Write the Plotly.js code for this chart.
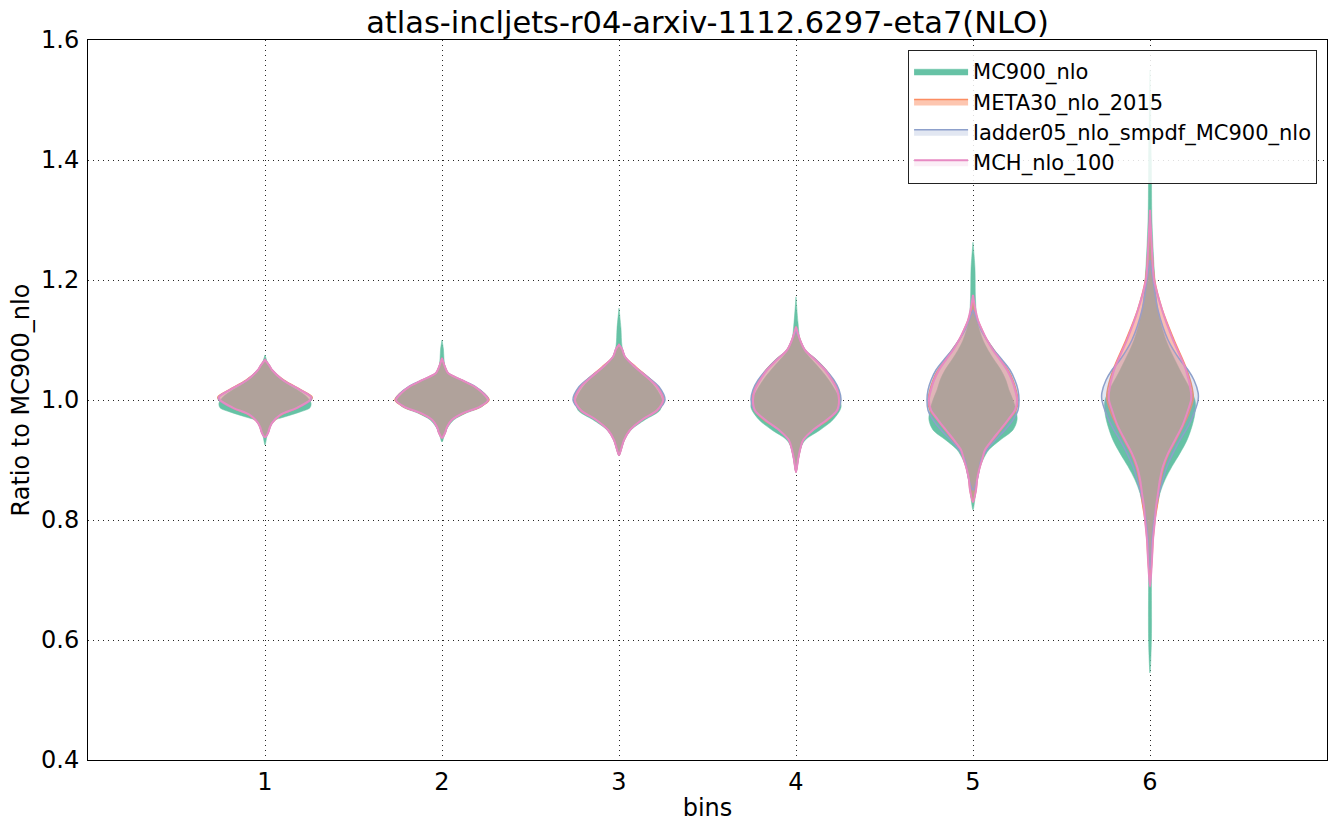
<!DOCTYPE html>
<html>
<head>
<meta charset="utf-8">
<script src="https://cdn.plot.ly/plotly-3.0.1.min.js"></script>
<style>
html,body{margin:0;padding:0;background:#fff;}
#chart{width:1337px;height:830px;}
</style>
</head>
<body>
<div id="chart"></div>
<script>
// ---- data ----
const bins = [1, 2, 3, 4, 5, 6];
const tickLabels = ['1', '2', '3', '4', '5', '6'];
const seriesNames = ['MC900_nlo', 'META30_nlo_2015', 'ladder05_nlo_smpdf_MC900_nlo', 'MCH_nlo_100'];
const titleText = 'atlas-incljets-r04-arxiv-1112.6297-eta7(NLO)';

// Violin profiles: ratio values (y) and half-widths (in bin units) per bin
const mc900Y = [
  [0.925, 0.94, 0.955, 0.965, 0.972, 0.98, 0.987, 0.995, 1.005, 1.017, 1.033, 1.05, 1.06, 1.075],
  [0.93, 0.945, 0.955, 0.967, 0.978, 0.989, 1.0, 1.011, 1.022, 1.033, 1.045, 1.055, 1.07, 1.085, 1.1],
  [0.908, 0.917, 0.933, 0.95, 0.967, 0.983, 1.0, 1.022, 1.038, 1.055, 1.072, 1.09, 1.12, 1.153],
  [0.88, 0.9, 0.917, 0.933, 0.95, 0.967, 0.987, 1.0, 1.017, 1.033, 1.05, 1.067, 1.083, 1.1, 1.13, 1.172],
  [0.817, 0.85, 0.883, 0.9, 0.917, 0.933, 0.95, 0.967, 0.983, 1.0, 1.017, 1.033, 1.05, 1.067, 1.083, 1.1, 1.133, 1.17, 1.22, 1.263],
  [0.545, 0.6, 0.7, 0.733, 0.767, 0.8, 0.822, 0.844, 0.867, 0.889, 0.911, 0.933, 0.956, 0.978, 1.0, 1.05, 1.1, 1.15, 1.2, 1.3, 1.4, 1.55]
];
const mc900W = [
  [0, 0.011, 0.023, 0.045, 0.113, 0.198, 0.254, 0.260, 0.237, 0.181, 0.096, 0.034, 0.017, 0],
  [0, 0.017, 0.034, 0.068, 0.136, 0.226, 0.254, 0.226, 0.181, 0.107, 0.034, 0.017, 0.011, 0.008, 0],
  [0, 0.011, 0.028, 0.068, 0.147, 0.232, 0.243, 0.203, 0.153, 0.085, 0.034, 0.017, 0.011, 0],
  [0, 0.011, 0.023, 0.051, 0.136, 0.209, 0.254, 0.249, 0.220, 0.186, 0.141, 0.090, 0.045, 0.023, 0.011, 0],
  [0, 0.017, 0.034, 0.056, 0.090, 0.153, 0.226, 0.249, 0.243, 0.226, 0.203, 0.186, 0.158, 0.119, 0.085, 0.056, 0.023, 0.014, 0.011, 0],
  [0, 0.008, 0.008, 0.008, 0.011, 0.023, 0.040, 0.056, 0.085, 0.124, 0.169, 0.209, 0.237, 0.254, 0.254, 0.169, 0.090, 0.045, 0.028, 0.011, 0.008, 0]
];

const meta30Y = [
  [0.938, 0.945, 0.955, 0.962, 0.975, 0.987, 1.0, 1.005, 1.017, 1.033, 1.05, 1.058, 1.067],
  [0.937, 0.945, 0.955, 0.967, 0.978, 0.989, 1.0, 1.011, 1.022, 1.033, 1.045, 1.055, 1.07],
  [0.908, 0.917, 0.933, 0.95, 0.967, 0.983, 1.0, 1.022, 1.038, 1.055, 1.072, 1.085, 1.092],
  [0.88, 0.9, 0.917, 0.933, 0.95, 0.967, 0.983, 1.0, 1.017, 1.033, 1.05, 1.067, 1.083, 1.1, 1.122],
  [0.83, 0.85, 0.867, 0.883, 0.9, 0.917, 0.933, 0.95, 0.967, 0.983, 1.0, 1.017, 1.033, 1.05, 1.067, 1.083, 1.1, 1.117, 1.133, 1.15, 1.17],
  [0.70, 0.733, 0.767, 0.8, 0.822, 0.844, 0.867, 0.889, 0.911, 0.933, 0.956, 0.978, 1.0, 1.012, 1.05, 1.1, 1.15, 1.2, 1.25, 1.30]
];
const meta30W = [
  [0, 0.017, 0.028, 0.040, 0.090, 0.186, 0.260, 0.266, 0.203, 0.107, 0.040, 0.023, 0],
  [0, 0.017, 0.028, 0.056, 0.124, 0.220, 0.266, 0.237, 0.186, 0.113, 0.034, 0.017, 0],
  [0, 0.011, 0.028, 0.062, 0.130, 0.220, 0.254, 0.220, 0.164, 0.096, 0.034, 0.017, 0],
  [0, 0.011, 0.023, 0.040, 0.096, 0.181, 0.237, 0.249, 0.237, 0.209, 0.169, 0.113, 0.051, 0.023, 0],
  [0, 0.017, 0.023, 0.034, 0.051, 0.073, 0.113, 0.158, 0.203, 0.243, 0.254, 0.243, 0.226, 0.198, 0.158, 0.119, 0.079, 0.051, 0.028, 0.011, 0],
  [0, 0.011, 0.017, 0.028, 0.040, 0.051, 0.062, 0.079, 0.107, 0.147, 0.186, 0.220, 0.243, 0.243, 0.209, 0.136, 0.070, 0.026, 0.011, 0]
];

const ladderY = [
  [0.938, 0.945, 0.955, 0.962, 0.975, 0.987, 1.0, 1.005, 1.017, 1.033, 1.05, 1.058, 1.067],
  [0.937, 0.945, 0.955, 0.967, 0.978, 0.989, 1.0, 1.011, 1.022, 1.033, 1.045, 1.055, 1.07],
  [0.908, 0.917, 0.933, 0.95, 0.967, 0.983, 1.0, 1.022, 1.038, 1.055, 1.072, 1.085, 1.092],
  [0.88, 0.9, 0.917, 0.933, 0.95, 0.967, 0.983, 1.0, 1.017, 1.033, 1.05, 1.067, 1.083, 1.1, 1.115],
  [0.85, 0.867, 0.883, 0.9, 0.917, 0.933, 0.95, 0.967, 0.983, 1.0, 1.017, 1.033, 1.05, 1.067, 1.083, 1.1, 1.117, 1.133, 1.15],
  [0.717, 0.733, 0.767, 0.8, 0.822, 0.844, 0.867, 0.889, 0.911, 0.933, 0.956, 0.978, 1.0, 1.012, 1.033, 1.05, 1.067, 1.1, 1.15, 1.2, 1.233]
];
const ladderW = [
  [0, 0.017, 0.028, 0.040, 0.085, 0.186, 0.260, 0.262, 0.198, 0.102, 0.040, 0.023, 0],
  [0, 0.017, 0.028, 0.056, 0.119, 0.215, 0.262, 0.237, 0.190, 0.113, 0.034, 0.017, 0],
  [0, 0.011, 0.028, 0.062, 0.130, 0.220, 0.260, 0.226, 0.164, 0.090, 0.034, 0.017, 0],
  [0, 0.011, 0.023, 0.040, 0.096, 0.175, 0.237, 0.254, 0.243, 0.215, 0.169, 0.113, 0.051, 0.023, 0],
  [0, 0.023, 0.034, 0.045, 0.079, 0.124, 0.181, 0.226, 0.254, 0.260, 0.254, 0.237, 0.209, 0.164, 0.119, 0.079, 0.045, 0.023, 0],
  [0, 0.006, 0.011, 0.023, 0.034, 0.051, 0.073, 0.096, 0.130, 0.169, 0.215, 0.249, 0.272, 0.272, 0.249, 0.215, 0.169, 0.102, 0.045, 0.017, 0]
];

const mchY = [
  [0.938, 0.945, 0.955, 0.962, 0.975, 0.987, 1.0, 1.005, 1.017, 1.033, 1.05, 1.058, 1.067],
  [0.937, 0.945, 0.955, 0.967, 0.978, 0.989, 1.0, 1.011, 1.022, 1.033, 1.045, 1.055, 1.07],
  [0.908, 0.917, 0.933, 0.95, 0.967, 0.983, 1.0, 1.022, 1.038, 1.055, 1.072, 1.085, 1.092],
  [0.88, 0.9, 0.917, 0.933, 0.95, 0.967, 0.983, 1.0, 1.017, 1.033, 1.05, 1.067, 1.083, 1.1, 1.122],
  [0.83, 0.85, 0.867, 0.883, 0.9, 0.917, 0.933, 0.95, 0.967, 0.983, 1.0, 1.017, 1.033, 1.05, 1.067, 1.083, 1.1, 1.117, 1.133, 1.155, 1.175],
  [0.689, 0.733, 0.767, 0.8, 0.822, 0.844, 0.867, 0.889, 0.911, 0.933, 0.956, 0.978, 1.0, 1.012, 1.05, 1.1, 1.15, 1.2, 1.25, 1.317]
];
const mchW = [
  [0, 0.017, 0.028, 0.040, 0.085, 0.181, 0.254, 0.260, 0.198, 0.102, 0.040, 0.023, 0],
  [0, 0.017, 0.028, 0.056, 0.119, 0.215, 0.260, 0.232, 0.186, 0.113, 0.034, 0.017, 0],
  [0, 0.011, 0.028, 0.062, 0.130, 0.215, 0.249, 0.215, 0.158, 0.090, 0.034, 0.017, 0],
  [0, 0.011, 0.023, 0.040, 0.096, 0.175, 0.232, 0.243, 0.232, 0.203, 0.164, 0.107, 0.051, 0.023, 0],
  [0, 0.017, 0.023, 0.034, 0.051, 0.068, 0.107, 0.153, 0.198, 0.237, 0.249, 0.237, 0.220, 0.192, 0.153, 0.113, 0.079, 0.051, 0.028, 0.011, 0],
  [0, 0.011, 0.017, 0.028, 0.034, 0.045, 0.056, 0.073, 0.102, 0.141, 0.181, 0.209, 0.232, 0.232, 0.203, 0.130, 0.068, 0.023, 0.011, 0]
];

// ---- styles ----
const styles = [
  {fill: '#66c2a5', line: '#66c2a5', width: 0.5},
  {fill: 'rgba(252,141,98,0.5)', line: '#fc8d62', width: 1.5},
  {fill: 'rgba(141,160,203,0.25)', line: '#8da0cb', width: 1.5},
  {fill: 'rgba(231,138,195,0.15)', line: '#e78ac3', width: 2}
];
const profilesY = [mc900Y, meta30Y, ladderY, mchY];
const profilesW = [mc900W, meta30W, ladderW, mchW];

function violinOutline(center, ys, ws) {
  const xs = [], yy = [];
  for (let i = 0; i < ys.length; i++) { xs.push(center + ws[i]); yy.push(ys[i]); }
  for (let i = ys.length - 1; i >= 0; i--) { xs.push(center - ws[i]); yy.push(ys[i]); }
  return {xs, yy};
}

const traces = seriesNames.map((name, s) => {
  let x = [], y = [];
  bins.forEach((b, k) => {
    const o = violinOutline(b, profilesY[s][k], profilesW[s][k]);
    if (k > 0) { x.push(null); y.push(null); }
    x = x.concat(o.xs); y = y.concat(o.yy);
  });
  return {
    type: 'scatter', mode: 'lines', name: name, x: x, y: y,
    fill: 'toself', fillcolor: styles[s].fill,
    line: {color: styles[s].line, width: styles[s].width, shape: 'spline', smoothing: 0.9},
    connectgaps: false, hoverinfo: 'skip'
  };
});

const font = 'DejaVu Sans, sans-serif';
const layout = {
  width: 1337, height: 830,
  margin: {l: 88, r: 10, t: 40, b: 70},
  paper_bgcolor: '#fff', plot_bgcolor: '#fff',
  font: {family: font, color: '#000', size: 24},
  title: {text: titleText, font: {family: font, size: 30.5, color: '#000'},
          x: 0.5, xref: 'paper', y: 0.973, yref: 'container', yanchor: 'middle'},
  xaxis: {
    range: [0, 7], tickvals: bins, ticktext: tickLabels,
    showline: true, mirror: true, linecolor: '#000', linewidth: 1,
    showgrid: true, gridcolor: 'rgba(0,0,0,0.85)', griddash: '1px,4px', gridwidth: 1,
    zeroline: false, ticks: '',
    tickfont: {size: 24},
    title: {text: 'bins', font: {size: 24}, standoff: 4}
  },
  yaxis: {
    range: [0.4, 1.6], tickvals: [0.4, 0.6, 0.8, 1.0, 1.2, 1.4, 1.6],
    ticktext: ['0.4', '0.6', '0.8', '1.0', '1.2', '1.4', '1.6'],
    showline: true, mirror: true, linecolor: '#000', linewidth: 1,
    showgrid: true, gridcolor: 'rgba(0,0,0,0.85)', griddash: '1px,4px', gridwidth: 1,
    zeroline: false, ticks: 'outside', ticklen: 3, tickcolor: 'rgba(0,0,0,0)',
    tickfont: {size: 24},
    title: {text: 'Ratio to MC900_nlo', font: {size: 24}, standoff: 4}
  },
  legend: {
    x: 0.992, y: 0.986, xanchor: 'right', yanchor: 'top',
    bgcolor: 'rgba(255,255,255,0.85)', bordercolor: '#222', borderwidth: 1,
    font: {size: 21, family: font}, tracegroupgap: 0, itemwidth: 54
  },
  showlegend: true
};

Plotly.newPlot('chart', traces, layout, {staticPlot: true, displayModeBar: false});
</script>
</body>
</html>
